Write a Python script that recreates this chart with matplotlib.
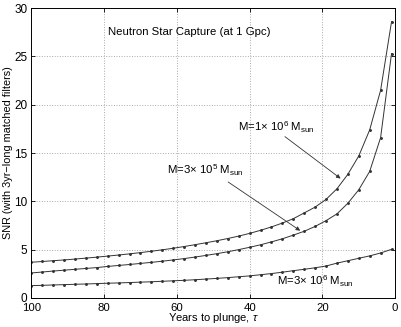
import numpy as np
import matplotlib
matplotlib.use("Agg")
import matplotlib.pyplot as plt

plt.rcParams['font.family'] = ['Liberation Sans', 'DejaVu Sans']
plt.rcParams['mathtext.fontset'] = 'custom'
plt.rcParams['mathtext.rm'] = 'Liberation Sans'
plt.rcParams['mathtext.it'] = 'Liberation Sans:italic'

# years to plunge (marker positions)
tau = [1, 4, 7, 10, 13, 16, 19, 22, 25, 28, 31, 34, 37, 40, 43, 46, 49,
       52, 55, 58, 61, 64, 67, 70, 73, 76, 79, 82, 85, 88, 91, 94, 97, 100]

snr_1e6 = [28.6, 21.5, 17.4, 14.7, 12.8, 11.3, 10.2, 9.4, 8.8, 8.2, 7.75, 7.35,
           7.0, 6.68, 6.4, 6.15, 5.92, 5.71, 5.51, 5.32, 5.14, 4.98, 4.83, 4.69,
           4.56, 4.44, 4.33, 4.22, 4.12, 4.02, 3.93, 3.85, 3.77, 3.69]

snr_3e5 = [25.3, 16.6, 13.1, 11.2, 9.8, 8.7, 8.0, 7.4, 6.9, 6.5, 6.12, 5.8,
           5.5, 5.24, 5.0, 4.78, 4.58, 4.4, 4.23, 4.07, 3.93, 3.8, 3.68, 3.57,
           3.46, 3.36, 3.26, 3.14, 3.05, 2.96, 2.87, 2.78, 2.68, 2.58]

snr_3e6 = [5.03, 4.65, 4.35, 4.1, 3.85, 3.6, 3.3, 3.12, 2.96, 2.82, 2.66, 2.52,
           2.4, 2.28, 2.19, 2.1, 2.02, 1.95, 1.88, 1.82, 1.77, 1.72, 1.67, 1.63,
           1.59, 1.55, 1.52, 1.48, 1.44, 1.41, 1.37, 1.34, 1.30, 1.27]

fig = plt.figure(figsize=(4.02, 3.27), dpi=100)
ax = fig.add_axes([0.078, 0.089, 0.905, 0.886])

for s in [snr_1e6, snr_3e5, snr_3e6]:
	ax.plot(tau, s, color='#333333', linewidth=0.7, marker='.', markersize=2.2)

ax.set_xlim(100, 0)
ax.set_ylim(0, 30)
ax.set_xticks([100, 80, 60, 40, 20, 0])
ax.set_yticks([0, 5, 10, 15, 20, 25, 30])
ax.tick_params(direction='in', top=True, right=True, labelsize=8.5, length=3, width=0.6)
ax.tick_params(axis='x', pad=3.5, labelsize=8.2)
ax.tick_params(axis='y', pad=3)
for sp in ax.spines.values():
	sp.set_linewidth(0.7)
ax.grid(color='#aaaaaa', linestyle=':', linewidth=0.7)

ax.set_xlabel(r'Years to plunge, $\tau$', fontsize=8, labelpad=-1)
ax.set_ylabel('SNR (with 3yr\u2212long matched filters)', fontsize=7.8, labelpad=1)

fs = 8.2
ax.text(79, 27.5, 'Neutron Star Capture (at 1 Gpc)', fontsize=fs, va='center', ha='left')

arr = dict(arrowstyle='-|>', lw=0.6, color='#333333', mutation_scale=6, shrinkA=0, shrinkB=0)
ax.text(43.2, 17.7, 'M=1\u00d7 10$^6$ M$_{\\mathrm{sun}}$', fontsize=fs, va='center', ha='left')
ax.annotate('', xy=(15.0, 12.36), xytext=(30.3, 16.7), arrowprops=arr)
ax.text(62.8, 13.2, 'M=3\u00d7 10$^5$ M$_{\\mathrm{sun}}$', fontsize=fs, va='center', ha='left')
ax.annotate('', xy=(26.1, 6.96), xytext=(45.9, 12.0), arrowprops=arr)
ax.text(32.4, 1.69, 'M=3\u00d7 10$^6$ M$_{\\mathrm{sun}}$', fontsize=fs, va='center', ha='left')

fig.savefig('out.png', dpi=100)
